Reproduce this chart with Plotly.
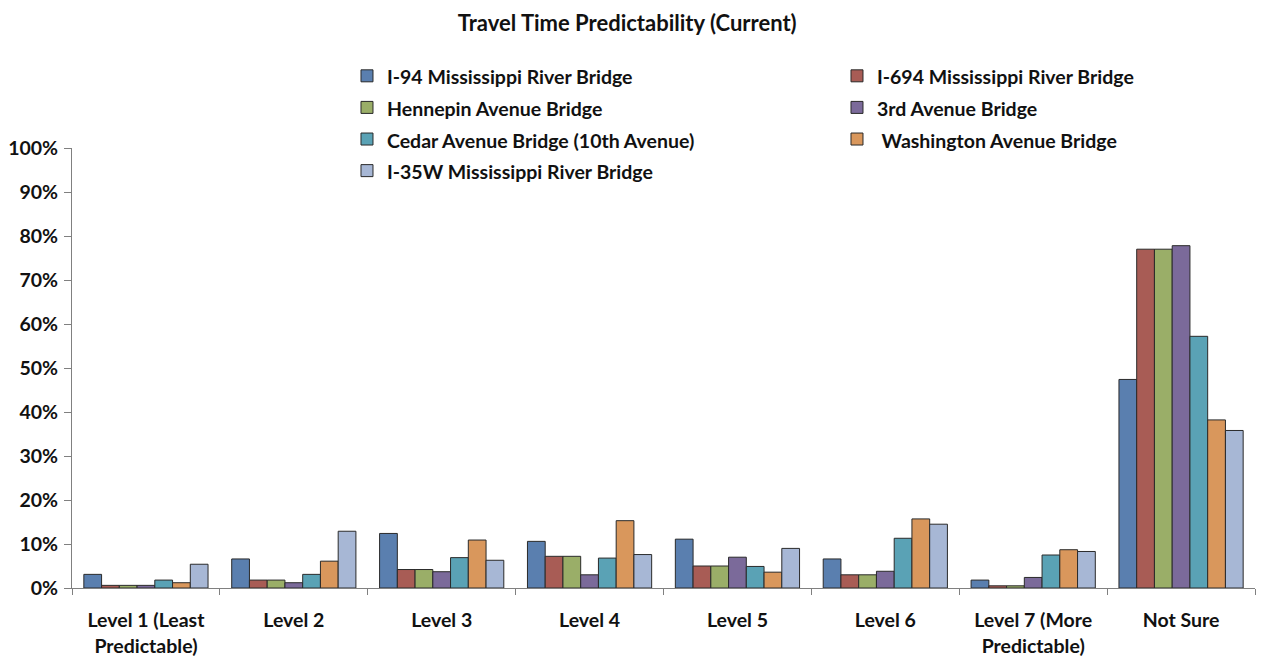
import plotly.graph_objects as go

categories = ["Level 1 (Least<br>Predictable)", "Level 2", "Level 3", "Level 4",
              "Level 5", "Level 6", "Level 7 (More<br>Predictable)", "Not Sure"]

series_names = ["I-94 Mississippi River Bridge", "I-694 Mississippi River Bridge",
                "Hennepin Avenue Bridge", "3rd Avenue Bridge",
                "Cedar Avenue Bridge (10th Avenue)", " Washington Avenue Bridge",
                "I-35W Mississippi River Bridge"]

i94 = [3.1, 6.6, 12.4, 10.6, 11.1, 6.6, 1.8, 47.4]
i694 = [0.6, 1.8, 4.2, 7.2, 5.0, 3.0, 0.5, 77.0]
hennepin = [0.6, 1.8, 4.2, 7.2, 5.0, 3.0, 0.5, 77.0]
third_ave = [0.6, 1.2, 3.7, 3.0, 7.0, 3.8, 2.4, 77.8]
cedar = [1.8, 3.1, 6.9, 6.8, 4.9, 11.3, 7.5, 57.2]
washington = [1.2, 6.1, 10.9, 15.3, 3.6, 15.7, 8.7, 38.2]
i35w = [5.4, 12.9, 6.3, 7.6, 9.0, 14.5, 8.3, 35.8]

series_values = [i94, i694, hennepin, third_ave, cedar, washington, i35w]
colors = ["#5A7FAF", "#A85C55", "#9AAE68", "#7B6A9A", "#5AA2B5", "#D9975C", "#A7B7D5"]

y_ticks = [0, 10, 20, 30, 40, 50, 60, 70, 80, 90, 100]
y_tick_labels = ["0%", "10%", "20%", "30%", "40%", "50%", "60%", "70%", "80%", "90%", "100%"]

FONT = "Lato"

fig = go.Figure()
for name, vals, col in zip(series_names, series_values, colors):
    fig.add_trace(go.Bar(
        x=categories, y=vals,
        name='<span style="font-size:19.5px">' + name + '</span>',
        marker=dict(color=col, line=dict(color="#2a2a2a", width=1)),
    ))

fig.update_layout(
    width=1256, height=653,
    barmode="group", bargap=0.16, bargroupgap=0,
    plot_bgcolor="white", paper_bgcolor="white",
    font=dict(family=FONT, size=19.5, color="#111111", weight="bold"),
    title=dict(text="<b>Travel Time Predictability (Current)</b>",
               x=0.493, xanchor="center", y=0.977, yanchor="middle",
               font=dict(family=FONT, size=22, color="#111111")),
    margin=dict(l=64, r=9, t=140, b=73, autoexpand=False),
    showlegend=True,
    legend=dict(orientation="h", xref="container", yref="container",
                x=0.2699, xanchor="left", y=0.928, yanchor="top",
                entrywidth=445, entrywidthmode="pixels",
                font=dict(family=FONT, size=22, color="#111111", weight="bold"),
                bgcolor="rgba(0,0,0,0)", traceorder="normal"),
    xaxis=dict(showline=True, linecolor="#808080", linewidth=1,
               ticks="outside", tickson="boundaries", ticklen=6, tickcolor="#808080",
               showgrid=False, ticklabelstandoff=15,
               tickfont=dict(family=FONT, size=19.5, weight="bold")),
    yaxis=dict(range=[0, 100], tickvals=y_ticks, ticktext=y_tick_labels,
               showline=True, linecolor="#808080", linewidth=1,
               ticks="outside", ticklen=7, tickcolor="#808080",
               showgrid=False, zeroline=False, ticklabelstandoff=2,
               tickfont=dict(family=FONT, size=19.5, weight="bold")),
)

fig.write_html("out.html")
